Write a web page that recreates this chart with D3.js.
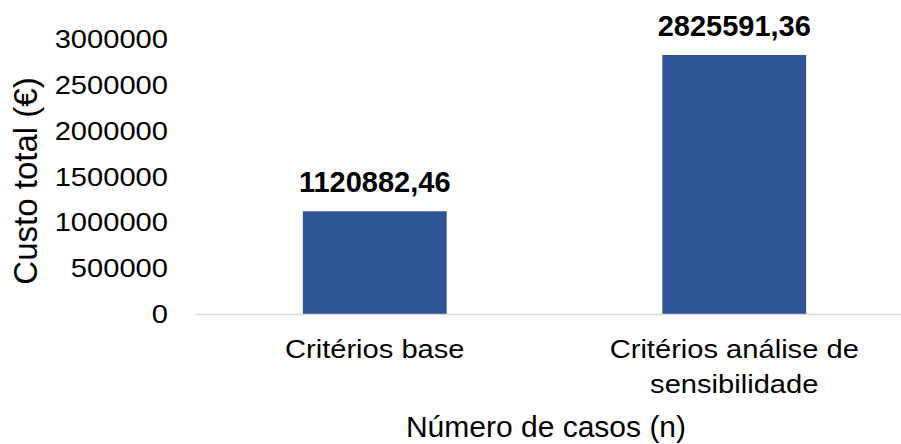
<!DOCTYPE html>
<html>
<head>
<meta charset="UTF-8">
<title>Custo total</title>
<script src="https://d3js.org/d3.v7.min.js"></script>
<style>
  body { margin: 0; background: #fff; }
  text { font-family: "Liberation Sans", Arial, sans-serif; fill: #000; }
</style>
</head>
<body>
<script>
var categories = [["Critérios base"], ["Critérios análise de", "sensibilidade"]];
var values = [1120882.46, 2825591.36];
var valueLabels = ["1120882,46", "2825591,36"];
var yTicks = [0, 500000, 1000000, 1500000, 2000000, 2500000, 3000000];

var w = 901, h = 444;
var sx = 1.12; // text in the picture is a bit wider than plain Arial
var svg = d3.select("body").append("svg").attr("width", w).attr("height", h);

var x = d3.scaleBand().domain(d3.range(values.length)).range([195, 914]).paddingInner(0.6).paddingOuter(0.3);
var y = d3.scaleLinear().domain([0, 3000000]).range([314, 39]);

// y tick labels
svg.selectAll(".ytick").data(yTicks).enter().append("text")
  .attr("class", "ytick")
  .attr("transform", function(d){ return "translate(168," + y(d) + ") scale(" + sx + ",1)"; })
  .attr("dy", "0.35em").attr("text-anchor", "end")
  .attr("font-size", 26)
  .text(function(d){ return d; });

// bars
svg.selectAll("rect").data(values).enter().append("rect")
  .attr("x", function(d, i){ return x(i); })
  .attr("y", function(d){ return y(d); })
  .attr("width", x.bandwidth())
  .attr("height", function(d){ return y(0) - y(d); })
  .attr("fill", "#2F5597");

// baseline
svg.append("line").attr("x1", 195).attr("x2", w).attr("y1", y(0) + 0.5).attr("y2", y(0) + 0.5)
  .attr("stroke", "#d9d9d9").attr("stroke-width", 1.5);

// value labels
svg.selectAll(".vlab").data(values).enter().append("text")
  .attr("class", "vlab")
  .attr("transform", function(d, i){ return "translate(" + (x(i) + x.bandwidth() / 2) + "," + (y(d) - 19) + ")"; })
  .attr("text-anchor", "middle").attr("font-size", 29).attr("font-weight", "bold")
  .text(function(d, i){ return valueLabels[i]; });

// category labels
var cat = svg.selectAll(".cat").data(categories).enter().append("text")
  .attr("class", "cat")
  .attr("text-anchor", "middle").attr("font-size", 26)
  .attr("transform", function(d, i){ return "translate(" + (x(i) + x.bandwidth() / 2) + ",358) scale(" + sx + ",1)"; });
cat.selectAll("tspan").data(function(d){ return d; }).enter().append("tspan")
  .attr("x", 0).attr("y", function(d, j){ return j * 35; })
  .text(function(d){ return d; });

// axis titles
svg.append("text").attr("x", 546).attr("y", 437).attr("text-anchor", "middle")
  .attr("font-size", 30).text("Número de casos (n)");
svg.append("text").attr("transform", "translate(37,181) rotate(-90)")
  .attr("text-anchor", "middle").attr("font-size", 33).text("Custo total (€)");
</script>
</body>
</html>
